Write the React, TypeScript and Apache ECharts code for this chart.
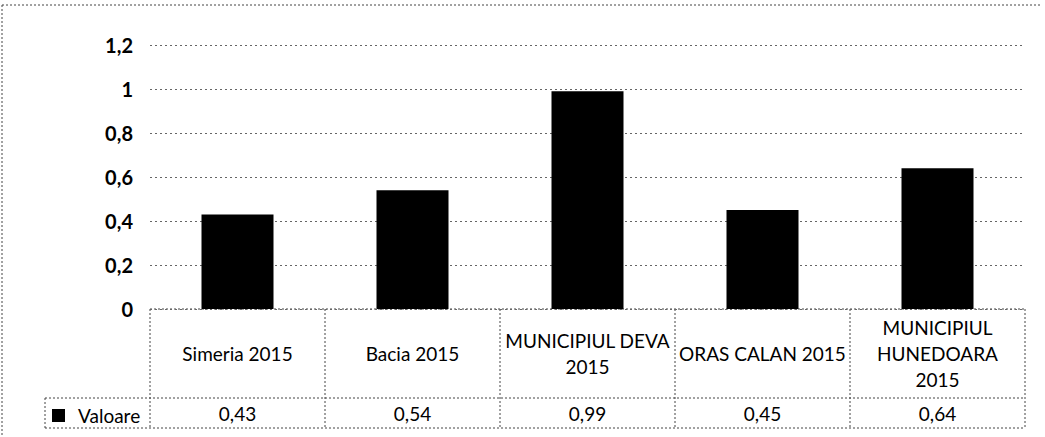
import React, { useEffect, useRef } from "react";
import * as echarts from "echarts";

const categories = ["Simeria 2015", "Bacia 2015", "MUNICIPIUL DEVA\n2015", "ORAS CALAN 2015", "MUNICIPIUL\nHUNEDOARA\n2015"];
const values = [0.43, 0.54, 0.99, 0.45, 0.64];
const seriesName = "Valoare";
const yTicks = [0, 0.2, 0.4, 0.6, 0.8, 1, 1.2];

const fmt = (v: number) => String(v).replace(".", ",");

export default function App() {
  const ref = useRef<HTMLDivElement>(null);
  useEffect(() => {
    if (!ref.current) return;
    const chart = echarts.init(ref.current, undefined, { renderer: "svg" });
    const L = 150, R = 1025, T = 45, B0 = 309, B1 = 398, B2 = 428, LL = 45;
    const step = (R - L) / categories.length;
    const dash = { stroke: "#444", lineWidth: 1, lineDash: [2, 2] };
    const lines: any[] = [];
    const hl = (x1: number, x2: number, y: number) => lines.push({ type: "line", shape: { x1, y1: y, x2, y2: y }, style: dash, silent: true });
    const vl = (x: number, y1: number, y2: number) => lines.push({ type: "line", shape: { x1: x, y1, x2: x, y2 }, style: dash, silent: true });
    hl(L, R, B0);
    hl(LL, R, B1);
    hl(LL, R, B2);
    vl(LL, B1, B2);
    for (let i = 0; i <= categories.length; i++) vl(L + i * step, B0, B2);
    // outer frame
    hl(2, 1040, 5);
    vl(2, 5, 435);
    chart.setOption({
      animation: false,
      textStyle: { fontFamily: "Lato", color: "#000" },
      grid: { left: L, right: 1045 - R, top: T, bottom: 437 - B0, containLabel: false },
      legend: {
        show: true,
        left: 47,
        top: 401,
        icon: "rect",
        itemWidth: 13,
        itemHeight: 13,
        itemGap: 4,
        textStyle: { fontFamily: "Lato", fontSize: 19, color: "#000", padding: [0, 0, 0, 8] },
        data: [seriesName],
      },
      xAxis: [
        {
          type: "category",
          data: categories,
          position: "bottom",
          axisLine: { show: false },
          axisTick: { show: false },
          axisLabel: {
            interval: 0,
            margin: 44,
            verticalAlign: "middle",
            fontFamily: "Lato",
            fontSize: 19,
            lineHeight: 26,
            color: "#000",
            align: "center",
          },
        },
        {
          type: "category",
          data: values.map(fmt),
          position: "bottom",
          offset: B1 - B0,
          axisLine: { show: false },
          axisTick: { show: false },
          axisLabel: {
            interval: 0,
            margin: 15,
            verticalAlign: "middle",
            fontFamily: "Lato",
            fontSize: 19,
            color: "#000",
          },
        },
      ],
      yAxis: {
        type: "value",
        min: 0,
        max: yTicks[yTicks.length - 1],
        interval: 0.2,
        axisLine: { show: false },
        axisTick: { show: false },
        axisLabel: {
          margin: 17,
          fontFamily: "Lato",
          fontSize: 20,
          fontWeight: "bold",
          color: "#000",
          formatter: (v: number) => fmt(Math.round(v * 10) / 10),
        },
        splitLine: { lineStyle: { color: "#666", type: [2, 3], width: 1 } },
      },
      series: [
        {
          name: seriesName,
          type: "bar",
          xAxisIndex: 0,
          data: values,
          barWidth: 72,
          itemStyle: { color: "#000" },
        },
      ],
      graphic: lines,
    });
    return () => chart.dispose();
  }, []);
  return <div ref={ref} style={{ position: "fixed", left: 0, top: 0, width: 1045, height: 437, background: "#fff" }} />;
}
